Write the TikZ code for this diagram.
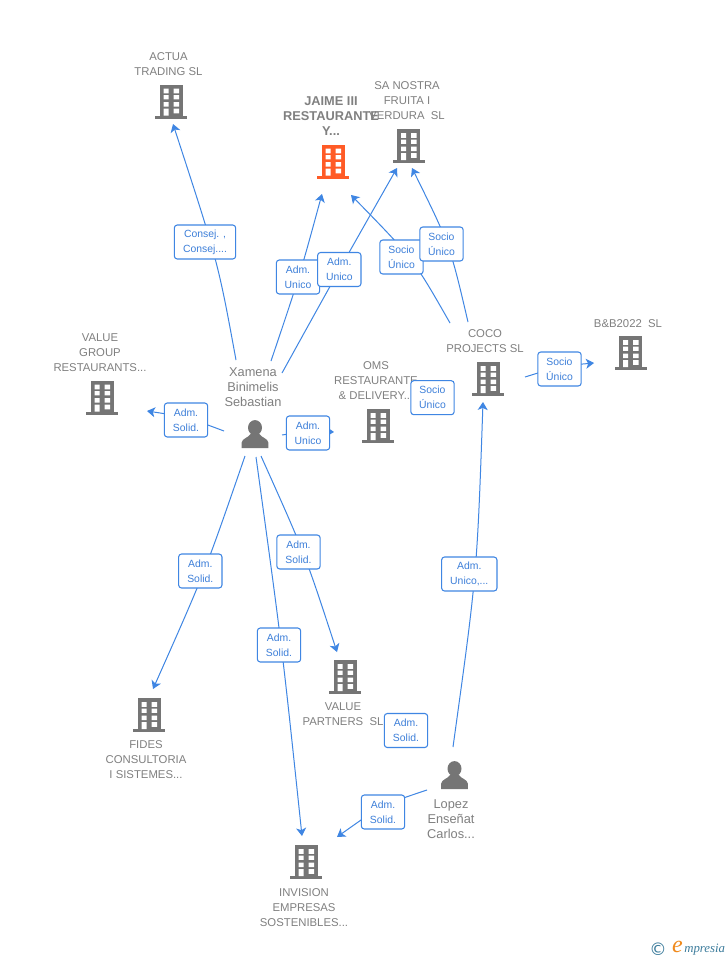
\documentclass[tikz,border=0pt]{standalone}
\usepackage{fontspec}
\setmainfont{Liberation Sans}
\newfontfamily\symfont{DejaVu Sans}
\newfontfamily\logofont{Liberation Serif}
\usetikzlibrary{arrows.meta}
\definecolor{edgeblue}{HTML}{3F86E3}
\definecolor{labblue}{HTML}{3D7FD9}
\definecolor{namegray}{HTML}{808080}
\definecolor{icongray}{HTML}{757575}
\definecolor{iconorange}{HTML}{FF5B26}
\definecolor{logoteal}{HTML}{3C7C9C}
\definecolor{logoorange}{HTML}{F08A1D}
\tikzset{
  linkedge/.style={draw=edgeblue,line width=0.75pt,-{Stealth[length=6pt,width=7.5pt,inset=1.6pt]}},
  tagbox/.style={draw=edgeblue,line width=0.8pt,fill=white,rounded corners=2.2pt,inner sep=0pt,
    minimum width=32.5pt,minimum height=25.5pt,align=center,text=labblue,
    font=\fontsize{7.8}{11.25}\selectfont},
  orgname/.style={align=center,text=namegray,inner sep=0pt,yshift=-0.6pt,font=\fontsize{8.5}{11.25}\selectfont},
  personname/.style={orgname,font=\fontsize{9.6}{11.25}\selectfont},
  headname/.style={orgname,font=\bfseries\fontsize{9.6}{11.1}\selectfont},
}
\newcommand{\bldg}[3]{%
  \begin{scope}[shift={(#1)}]
    \fill[#2] (-11.5,-17) rectangle (11.5,15);
    \fill[#2] (-16,14) rectangle (16,17);
    \fill[white] (-7.3,-12.8) rectangle (-2.3,-8.2) (2.7,-12.8) rectangle (8,-8.2)
      (-7.3,-6.5) rectangle (-2.3,-2.2) (2.7,-6.5) rectangle (8,-2.2)
      (-7.3,0.5) rectangle (-2.3,5.2) (2.7,0.5) rectangle (8,5.2)
      (-7.3,7.2) rectangle (-2.3,14) (2.7,7.2) rectangle (8,11.8);
  \end{scope}}
\newcommand{\persona}[1]{%
  \begin{scope}[shift={(#1)}]
    \fill[icongray] (0,-6.3) ellipse (7 and 7.6);
    \fill[icongray] (-13.3,14) -- (-13.3,8.5) .. controls (-13,4.5) and (-7,4) .. (-4.5,0)
      -- (4.5,0) .. controls (7,4) and (13,4.5) .. (13.3,8.5) -- (13.3,14) -- cycle;
  \end{scope}}
\begin{document}
\begin{tikzpicture}[x=0.75pt,y=-0.75pt]
\useasboundingbox (0,0) rectangle (728,960);
\fill[white] (0,0) rectangle (728,960);
% icons
\bldg{171,101.5}{icongray}{}
\bldg{333,161.5}{iconorange}{}
\bldg{408.5,146}{icongray}{}
\bldg{102,397.5}{icongray}{}
\bldg{378,426}{icongray}{}
\bldg{488,379}{icongray}{}
\bldg{630.5,353}{icongray}{}
\bldg{345,677}{icongray}{}
\bldg{149,715}{icongray}{}
\bldg{306,862}{icongray}{}
\persona{255,434}
\persona{454.5,775}
% names
\node[orgname] (actua) at (168.5,63.5) {ACTUA\\TRADING SL};
\node[headname] (jaime) at (331,115.5) {JAIME III\\RESTAURANTE\\Y...};
\node[orgname] (nostra) at (407,100) {SA NOSTRA\\FRUITA I\\VERDURA\ \ SL};
\node[orgname] (vgroup) at (100,352) {VALUE\\GROUP\\RESTAURANTS...};
\node[orgname] (oms) at (376,380) {OMS\\RESTAURANTE\\\& DELIVERY...};
\node[orgname] (coco) at (485,340.5) {COCO\\PROJECTS SL};
\node[orgname] (bb) at (628,323) {B\&B2022\ \ SL};
\node[personname] (xamena) at (253,386.5) {Xamena\\Binimelis\\Sebastian};
\node[orgname] (vpart) at (343,713.5) {VALUE\\PARTNERS\ \ SL};
\node[orgname] (fides) at (146,759) {FIDES\\CONSULTORIA\\I SISTEMES...};
\node[orgname] (invis) at (304,907) {INVISION\\EMPRESAS\\SOSTENIBLES...};
\node[personname] (lopez) at (451,818) {Lopez\\Enseñat\\Carlos...};
% connector ends
\coordinate (xActua) at (236,360);   \coordinate (tActua) at (173,124);
\coordinate (xJaime) at (271,361);   \coordinate (tJaime) at (322,194);
\coordinate (xNostra) at (282,373);  \coordinate (tNostra) at (397,168);
\coordinate (cJaime) at (450,323);   \coordinate (tJaimeB) at (351,195);
\coordinate (cNostra) at (468,322);  \coordinate (tNostraB) at (412,168);
\coordinate (cBb) at (525,377);      \coordinate (tBb) at (594,363);
\coordinate (xVg) at (224,431);      \coordinate (tVg) at (147,411);
\coordinate (xOms) at (282,435);     \coordinate (tOms) at (334,432);
\coordinate (xFides) at (245,456);   \coordinate (tFides) at (153,689);
\coordinate (xVp) at (261,456);      \coordinate (tVp) at (337,652);
\coordinate (xInv) at (256,457);     \coordinate (tInv) at (302,836);
\coordinate (lCoco) at (453,747);    \coordinate (tCoco) at (483,402);
\coordinate (lInv) at (427,790);     \coordinate (tInvB) at (337,837);
% connectors
\draw[linkedge] (xActua) .. controls (218,262) .. (tActua);
\draw[linkedge] (xJaime) .. controls (299.5,276.5) .. (tJaime);
\draw[linkedge] (xNostra) .. controls (339,270) .. (tNostra);
\draw[linkedge] (cJaime) .. controls (413.5,259) .. (tJaimeB);
\draw[linkedge] (cNostra) .. controls (450,245) .. (tNostraB);
\draw[linkedge] (cBb) .. controls (560.5,366) .. (tBb);
\draw[linkedge] (xVg) .. controls (186.5,417) .. (tVg);
\draw[linkedge] (xOms) .. controls (308,431) .. (tOms);
\draw[linkedge] (xFides) .. controls (205,572) .. (tFides);
\draw[linkedge] (xVp) .. controls (305,554) .. (tVp);
\draw[linkedge] (xInv) .. controls (282,646) .. (tInv);
\draw[linkedge] (lCoco) .. controls (477,574) .. (tCoco);
\draw[linkedge] (lInv) .. controls (382,805) .. (tInvB);
% tags
\node[tagbox,minimum width=46pt] (t1) at (205,242) {Consej. ,\\Consej....};
\node[tagbox] (t2) at (298,277) {Adm.\\Unico};
\node[tagbox] (t3) at (339.3,269.5) {Adm.\\Unico};
\node[tagbox] (t4) at (401.5,257) {Socio\\Único};
\node[tagbox] (t5) at (441.5,244) {Socio\\Único};
\node[tagbox] (t6) at (432.5,397.7) {Socio\\Único};
\node[tagbox] (t7) at (559.5,369) {Socio\\Único};
\node[tagbox] (t8) at (186,420) {Adm.\\Solid.};
\node[tagbox] (t9) at (308,433) {Adm.\\Unico};
\node[tagbox] (t10) at (200.3,571) {Adm.\\Solid.};
\node[tagbox] (t11) at (298.5,552) {Adm.\\Solid.};
\node[tagbox] (t12) at (279,645) {Adm.\\Solid.};
\node[tagbox,minimum width=41.5pt] (t13) at (469.3,574) {Adm.\\Unico,...};
\node[tagbox] (t14) at (406,730.5) {Adm.\\Solid.};
\node[tagbox] (t15) at (383,812) {Adm.\\Solid.};
% logo
\node[inner sep=0pt,text=logoteal,font=\symfont\fontsize{13}{13}\selectfont] (copyr) at (658,949) {©};
\node[inner sep=0pt,text=logoorange,font=\logofont\itshape\fontsize{18}{18}\selectfont] (loge) at (677.5,947) {e};
\node[inner sep=0pt,anchor=west,text=logoteal,font=\logofont\itshape\fontsize{9.6}{9.6}\selectfont] (logt) at (684,950) {mpresia};
\end{tikzpicture}
\end{document}
